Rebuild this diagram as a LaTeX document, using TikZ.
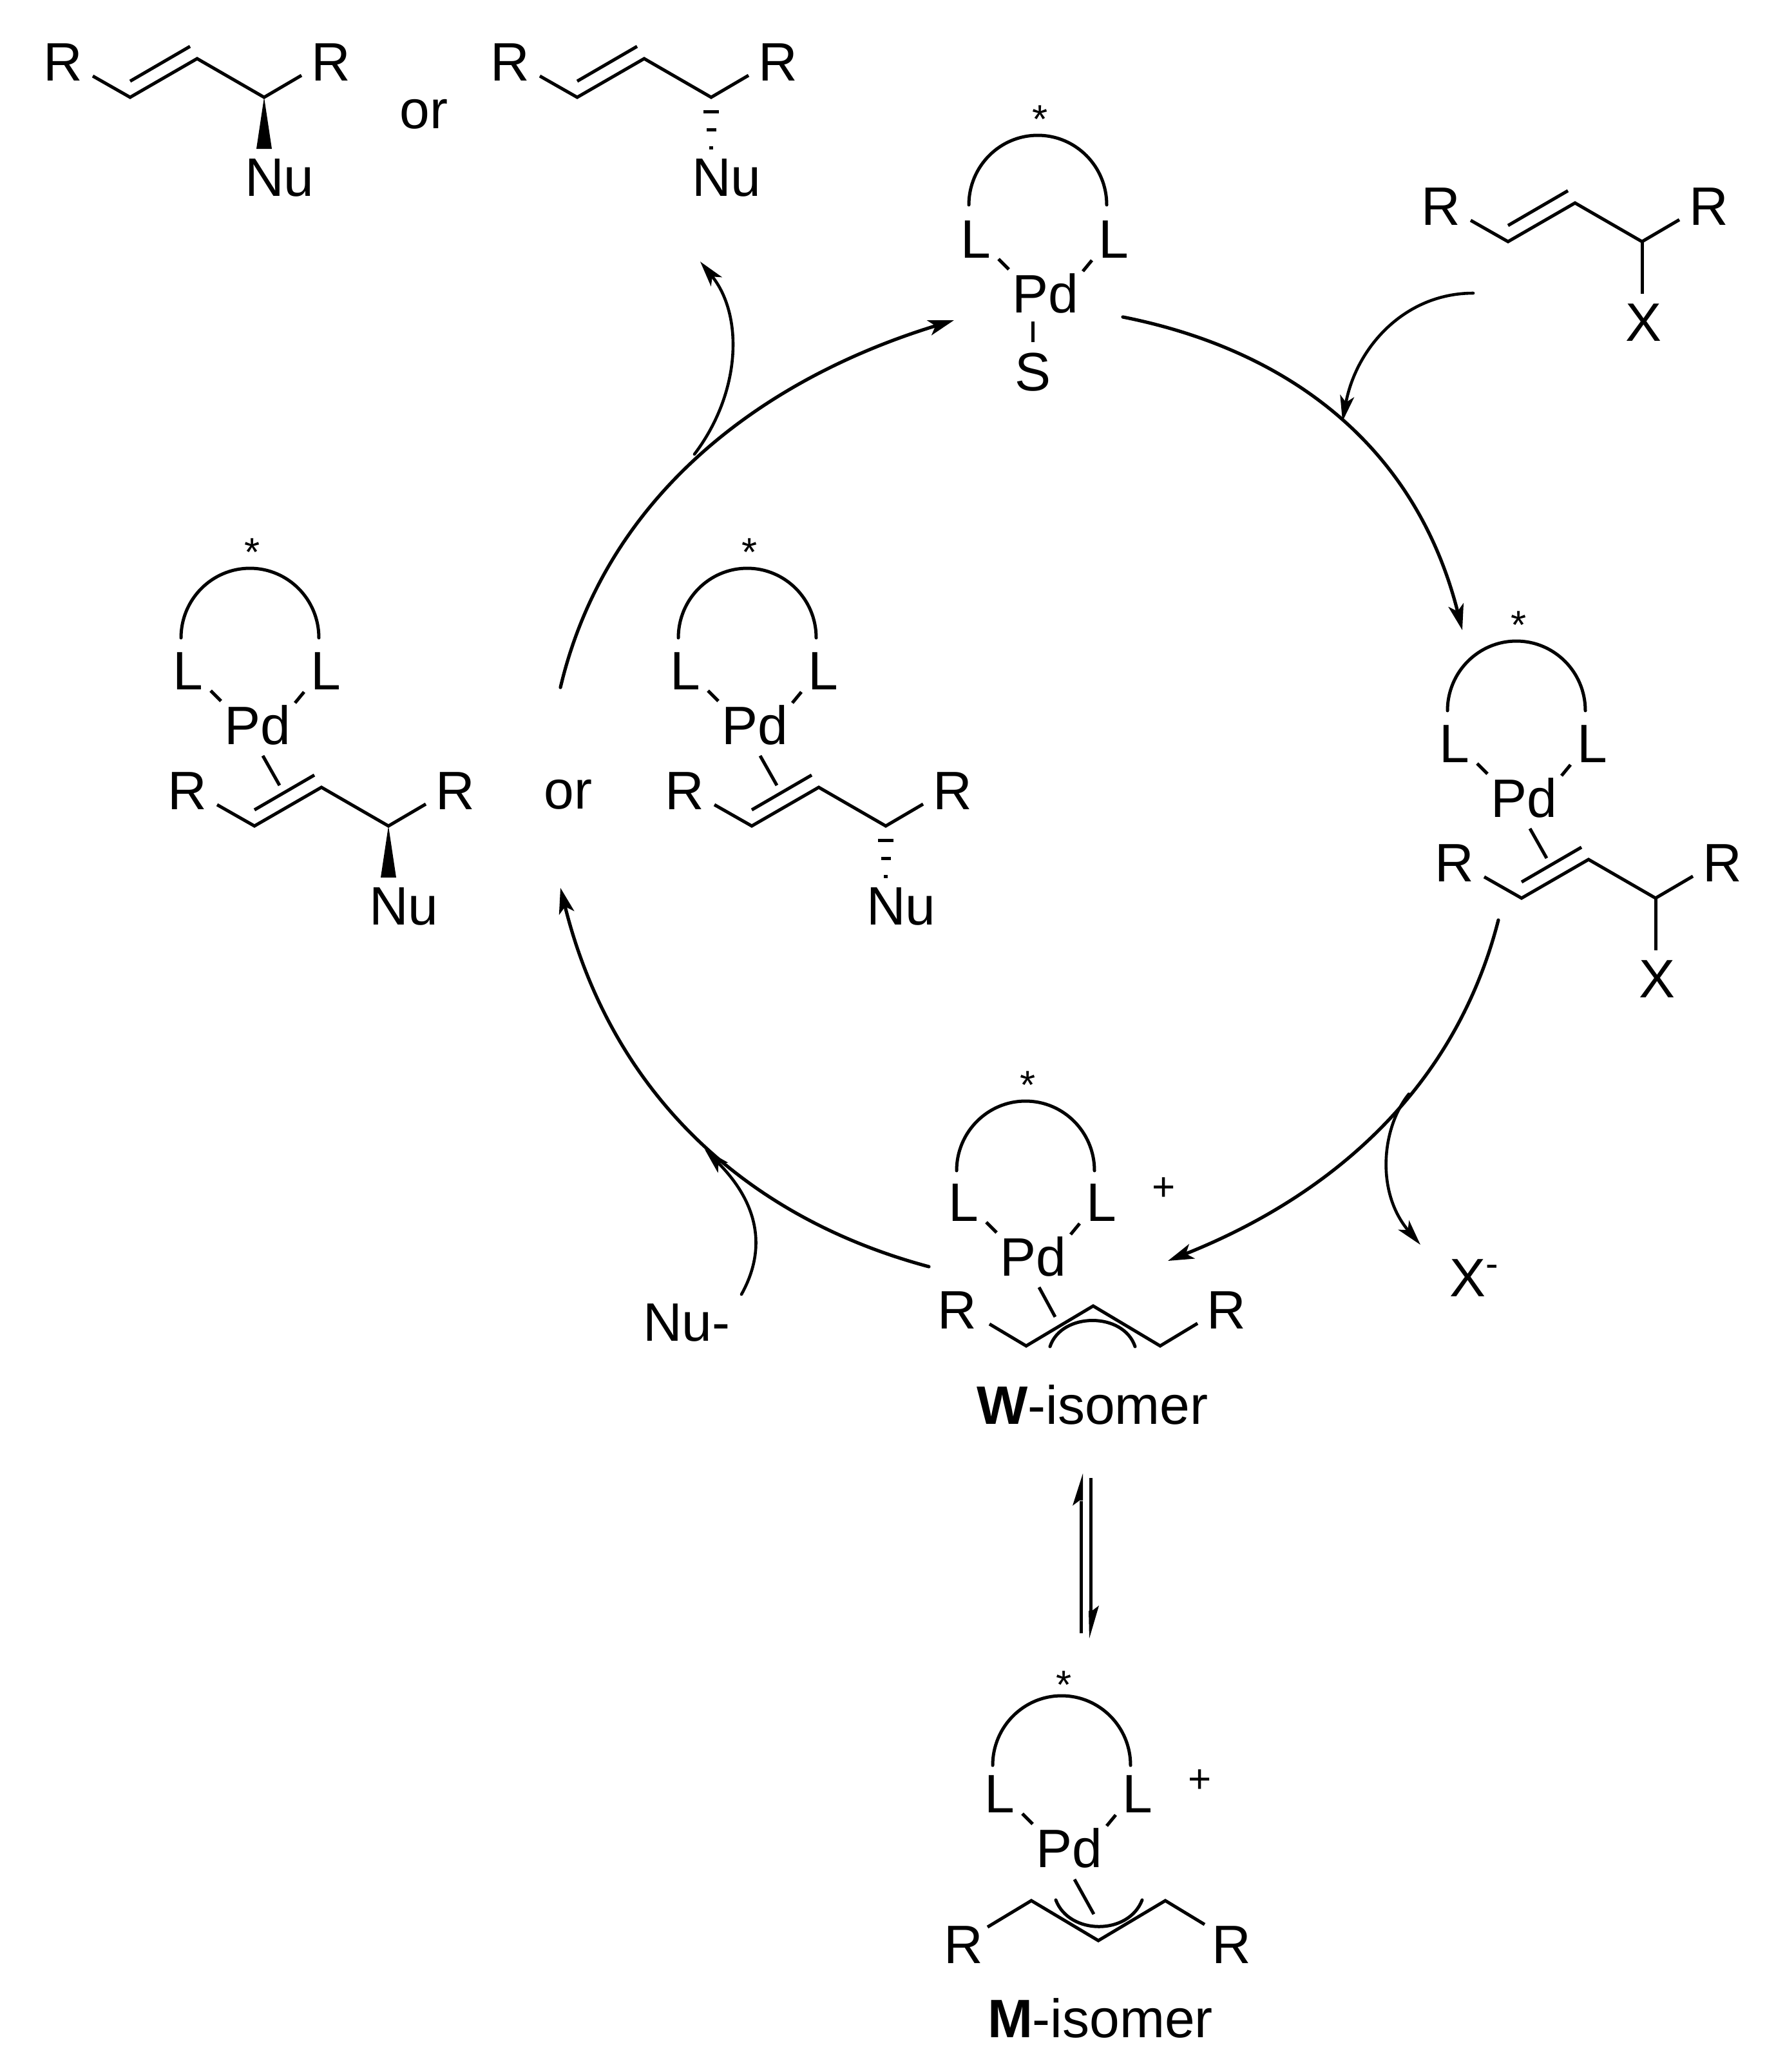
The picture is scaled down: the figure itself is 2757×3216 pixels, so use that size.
\documentclass[tikz,border=0pt]{standalone}
\usepackage{fontspec}
\setmainfont{Liberation Sans}
\usetikzlibrary{arrows.meta}
\tikzset{
  atom/.style={inner sep=0pt,outer sep=0pt,anchor=base,font=\fontsize{21}{21}\selectfont},
  small/.style={inner sep=0pt,outer sep=0pt,anchor=base,font=\fontsize{15.5}{15.5}\selectfont},
  bond/.style={line width=1.25pt,line join=miter},
  ligarc/.style={line width=1.25pt,line cap=round},
  cycle/.style={line width=1.3pt,line cap=round,-{Stealth[length=10pt,width=6pt,inset=2.5pt]}},
  branch/.style={line width=1.15pt,line cap=round,-{Stealth[length=10pt,width=5.5pt,inset=2.5pt]}},
  halfhead/.style={fill=black,draw=none}
}
% ligand with Pd: name, x, y, arc top, arc ends, star centre
\newcommand{\pdligand}[6]{%
  \begin{scope}[shift={(#2,#3)}]
    \node[atom] (#1Pd) at (0,30) {Pd};
    \node[atom] (#1La) at (-108,-55) {L};
    \node[atom] (#1Lb) at (106,-55) {L};
    \node[small] (#1star) at (-8,{#6+36}) {*};
    \coordinate (#1e) at (-119,#5);
    \coordinate (#1f) at (95,#5);
    \coordinate (#1t) at (-12,#4);
    \draw[ligarc] (#1e) .. controls (-119,{#5+0.5523*(#4-(#5))}) and (-71,#4) .. (#1t)
       .. controls (47,#4) and (95,{#5+0.5523*(#4-(#5))}) .. (#1f);
    \coordinate (#1a1) at (-73,-53); \coordinate (#1a2) at (-57,-37);
    \coordinate (#1b1) at (72,-51);  \coordinate (#1b2) at (58,-34);
    \draw[bond] (#1a1) -- (#1a2);
    \draw[bond] (#1b1) -- (#1b2);
  \end{scope}}
% R-CH=CH-CH(sub)-R chain around the stereocentre: name, x, y
\newcommand{\allyl}[3]{%
  \begin{scope}[shift={(#2,#3)}]
    \node[atom] (#1Ra) at (-312,-26) {R};
    \node[atom] (#1Rb) at (104,-26) {R};
    \coordinate (#1s) at (-266,-33);
    \coordinate (#1c1) at (-208,0);
    \coordinate (#1c2) at (-104,-60);
    \coordinate (#1c3) at (0,0);
    \coordinate (#1s2) at (58,-34);
    \coordinate (#1i1) at (-208,-25);
    \coordinate (#1i2) at (-115,-79);
    \draw[bond] (#1s) -- (#1c1) -- (#1c2) -- (#1c3) -- (#1s2);
    \draw[bond] (#1i1) -- (#1i2);
  \end{scope}}
\newcommand{\nuwedge}[3]{%
  \begin{scope}[shift={(#2,#3)}]
    \node[atom] (#1Nu) at (24,153) {Nu};
    \fill (0,0) -- (-12,80) -- (12,80) -- cycle;
  \end{scope}}
\newcommand{\nuhash}[3]{%
  \begin{scope}[shift={(#2,#3)}]
    \node[atom] (#1Nu) at (24,153) {Nu};
    \fill (-12,20) rectangle (12,25);
    \fill (-7.5,48) rectangle (7.5,53);
    \fill (-3,76) rectangle (3,81);
  \end{scope}}
\newcommand{\xbond}[3]{%
  \begin{scope}[shift={(#2,#3)}]
    \node[atom] (#1X) at (2,154) {X};
    \coordinate (#1xa) at (0,0); \coordinate (#1xb) at (0,81);
    \draw[bond] (#1xa) -- (#1xb);
  \end{scope}}
\begin{document}
\begin{tikzpicture}[x=0.25pt,y=-0.25pt]
\useasboundingbox (0,0) rectangle (2757,3216);

% top products
\allyl{A}{410}{151}
\nuwedge{A}{410}{151}
\node[atom] (or1) at (658,199) {or};
\allyl{B}{1104}{151}
\nuhash{B}{1104}{151}

% catalyst
\pdligand{cat}{1623}{455}{-245}{-137}{-285}
\coordinate (catS1) at (1603,499);
\coordinate (catS2) at (1603,531);
\draw[bond] (catS1) -- (catS2);
\node[atom] (catS) at (1603,606) {S};

% substrate
\allyl{sub}{2549}{375}
\xbond{sub}{2549}{375}

% substrate complex
\pdligand{ox}{2366}{1238}{-243}{-135}{-283}
\allyl{oxa}{2570}{1394}
\xbond{oxa}{2570}{1394}
\coordinate (oxp1) at (2375,1286);
\coordinate (oxp2) at (2401,1332);
\draw[bond] (oxp1) -- (oxp2);

% product complexes
\pdligand{pa}{400}{1125}{-243}{-135}{-283}
\allyl{pal}{603}{1282}
\nuwedge{pal}{603}{1282}
\coordinate (pap1) at (408,1173);
\coordinate (pap2) at (434,1219);
\draw[bond] (pap1) -- (pap2);
\node[atom] (or2) at (882,1255) {or};
\pdligand{pb}{1172}{1125}{-243}{-135}{-283}
\allyl{pbl}{1375}{1282}
\nuhash{pbl}{1375}{1282}
\coordinate (pbp1) at (1180,1173);
\coordinate (pbp2) at (1206,1219);
\draw[bond] (pbp1) -- (pbp2);

% W isomer
\pdligand{w}{1604}{1950}{-241}{-133}{-281}
\node[small] (wplus) at (1807,1863) {+};
\node[atom] (wRa) at (1486,2062) {R};
\node[atom] (wRb) at (1904,2062) {R};
\coordinate (ws1) at (1536,2055);
\coordinate (wc1) at (1593,2089);
\coordinate (wc2) at (1697,2027);
\coordinate (wc3) at (1801,2089);
\coordinate (ws2) at (1859,2054);
\draw[bond] (ws1) -- (wc1) -- (wc2) -- (wc3) -- (ws2);
\coordinate (wa1) at (1630,2090);
\coordinate (wa2) at (1762,2090);
\draw[ligarc] (wa1) .. controls (1648,2036) and (1744,2036) .. (wa2);
\coordinate (wp1) at (1613,1998);
\coordinate (wp2) at (1638,2044);
\draw[bond] (wp1) -- (wp2);
\node[atom] (wlabel) at (1696,2210) {\textbf{W}-isomer};

% M isomer
\pdligand{m}{1660}{2868}{-236}{-128}{-268}
\node[small] (mplus) at (1863,2782) {+};
\node[atom] (mRa) at (1496,3047) {R};
\node[atom] (mRb) at (1912,3047) {R};
\coordinate (ms1) at (1533,2991);
\coordinate (mc1) at (1601,2950);
\coordinate (mc2) at (1705,3012);
\coordinate (mc3) at (1809,2950);
\coordinate (ms2) at (1870,2987);
\draw[bond] (ms1) -- (mc1) -- (mc2) -- (mc3) -- (ms2);
\coordinate (ma1) at (1639,2949);
\coordinate (ma2) at (1773,2949);
\draw[ligarc] (ma1) .. controls (1660,3004) and (1752,3004) .. (ma2);
\coordinate (mp1) at (1668,2917);
\coordinate (mp2) at (1698,2971);
\draw[bond] (mp1) -- (mp2);
\node[atom] (mlabel) at (1708,3162) {\textbf{M}-isomer};

% equilibrium
\coordinate (eqa1) at (1678,2535);
\coordinate (eqa2) at (1678,2330);
\coordinate (eqb1) at (1693,2294);
\coordinate (eqb2) at (1693,2500);
\draw[bond] (eqa1) -- (eqa2);
\draw[bond] (eqb1) -- (eqb2);
\fill[halfhead] (1681,2287) -- (1665,2337) -- (1675.7,2329) -- (1681,2329) -- cycle;
\fill[halfhead] (1691,2543) -- (1706,2492) -- (1695.3,2500) -- (1690,2500) -- cycle;

% free texts
\node[atom] (numinus) at (1066,2081) {Nu-};
\node[atom,anchor=base west] (xminus) at (2250,2012) {X\textsuperscript{-}};

% cycle arrows
\coordinate (k1) at (1743,492);
\coordinate (k2) at (2270,978);
\coordinate (k3) at (2326,1428);
\coordinate (k4) at (1813,1957);
\coordinate (k5) at (1442,1966);
\coordinate (k6) at (870,1378);
\coordinate (k7) at (870,1067);
\coordinate (k8) at (1481,497);
\draw[cycle] (k1) .. controls (2010,545) and (2200,700) .. (k2);
\draw[cycle] (k3) .. controls (2259,1690) and (2067,1856) .. (k4);
\draw[cycle] (k5) .. controls (1140,1885) and (945,1680) .. (k6);
\draw[cycle] (k7) .. controls (941,767) and (1186,587) .. (k8);

% side arrows
\coordinate (s1a) at (2287,455);
\coordinate (s1b) at (2084,654);
\coordinate (s2a) at (2187,1698);
\coordinate (s2b) at (2205,1932);
\coordinate (s3a) at (1151,2009);
\coordinate (s3b) at (1094,1784);
\coordinate (s4a) at (1078,705);
\coordinate (s4b) at (1087,406);
\draw[branch] (s1a) .. controls (2180,455) and (2105,540) .. (s1b);
\draw[branch] (s2a) .. controls (2145,1750) and (2135,1850) .. (s2b);
\draw[branch] (s3a) .. controls (1195,1930) and (1170,1860) .. (s3b);
\draw[branch] (s4a) .. controls (1150,610) and (1155,490) .. (s4b);
\end{tikzpicture}
\end{document}
